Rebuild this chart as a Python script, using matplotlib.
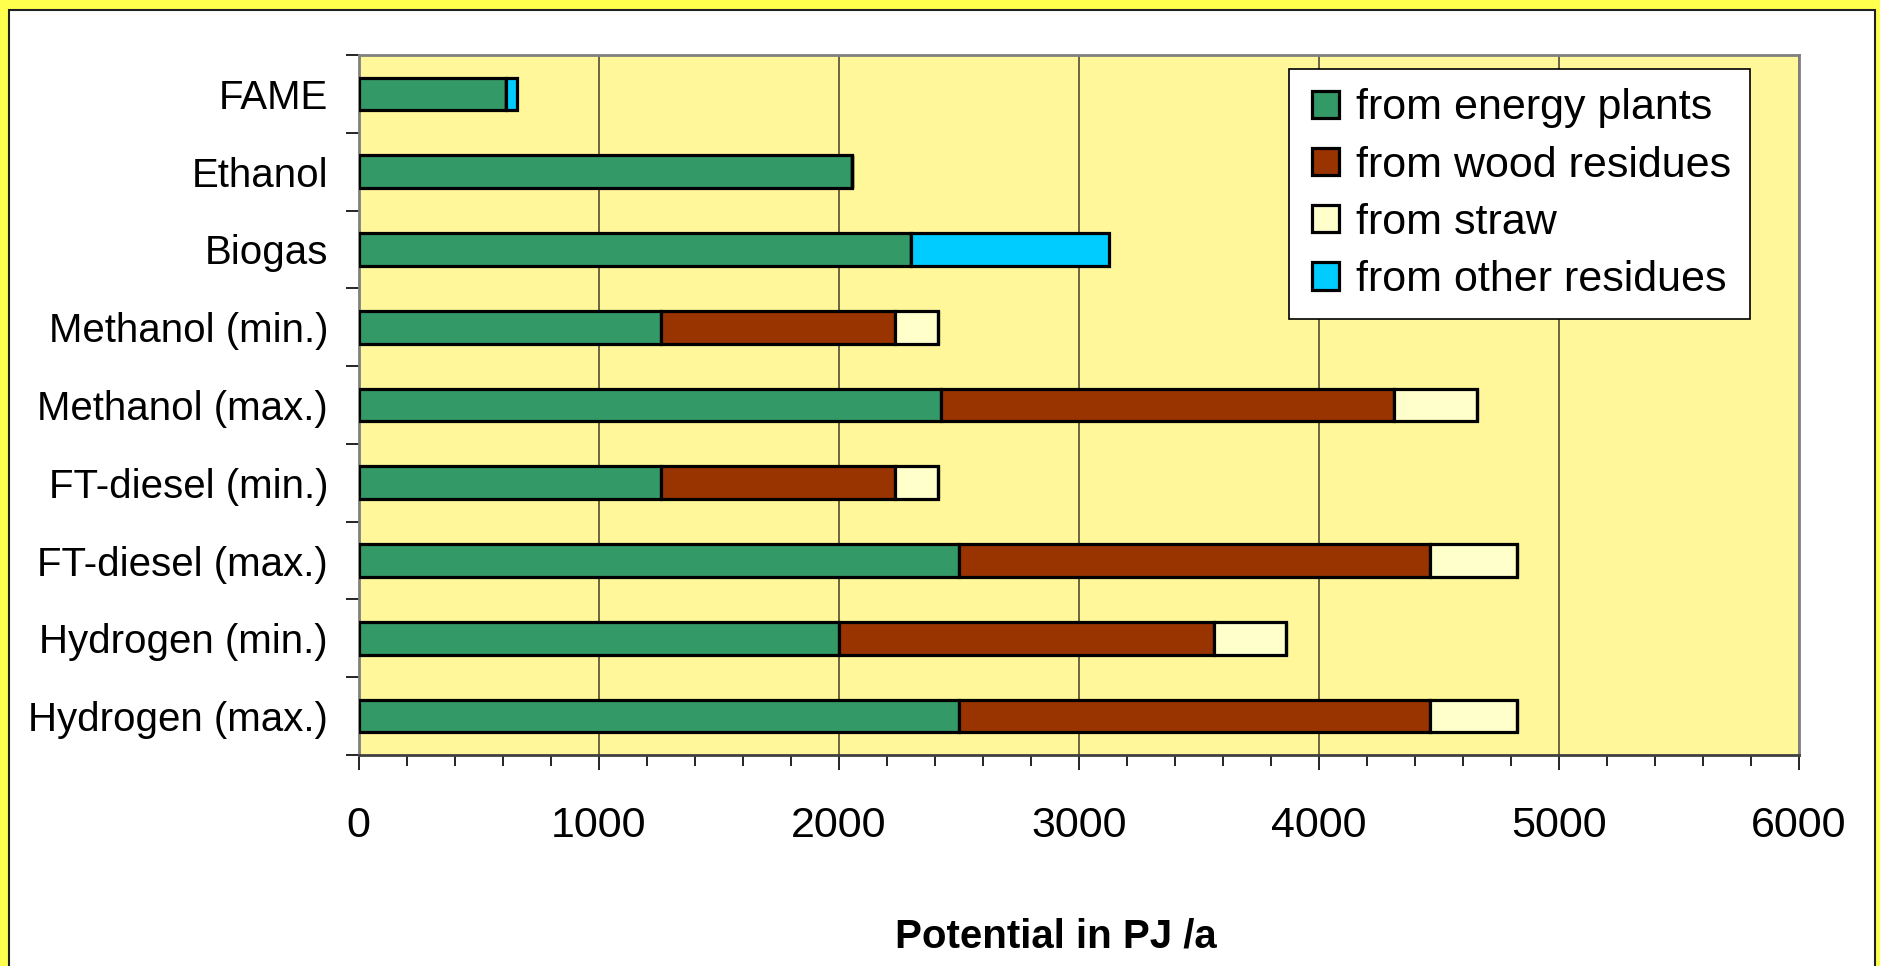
import numpy as np
import matplotlib.pyplot as plt
from matplotlib.patches import Rectangle
from matplotlib.container import BarContainer
from matplotlib.legend_handler import HandlerPatch, update_from_first_child
from matplotlib.ticker import MultipleLocator

plt.rcParams['font.family'] = ['Liberation Sans', 'DejaVu Sans']

# fuel paths, top to bottom
categories = ['FAME', 'Ethanol', 'Biogas', 'Methanol (min.)', 'Methanol (max.)',
              'FT-diesel (min.)', 'FT-diesel (max.)', 'Hydrogen (min.)', 'Hydrogen (max.)']

# potential in PJ/a by feedstock
energy_plants = [615, 2055, 2300, 1260, 2425, 1260, 2500, 2000, 2500]
wood_residues = [0, 0, 0, 975, 1890, 975, 1965, 1565, 1965]
straw = [0, 0, 0, 180, 345, 180, 360, 300, 360]
other_residues = [43, 0, 825, 0, 0, 0, 0, 0, 0]

SERIES = [
    ('from energy plants', energy_plants, '#339966'),
    ('from wood residues', wood_residues, '#993300'),
    ('from straw', straw, '#FFFFCC'),
    ('from other residues', other_residues, '#00CCFF'),
]


def square_key(legend, orig_handle, xdescent, ydescent, width, height, fontsize):
    # square legend key pushed to the right end of the handle box
    return Rectangle((-xdescent + width - height, -ydescent), height, height)


fig = plt.figure(figsize=(18.81, 9.66), dpi=100, facecolor='#FFFF4D')

# white chart panel inside the yellow frame (kept behind the axes)
fig.patches.append(Rectangle((9 / 1881, -0.02), 1866 / 1881, 1 - 10 / 966 + 0.02,
                             transform=fig.transFigure, facecolor='white',
                             edgecolor='#202020', linewidth=1.5, zorder=-1))

ax = fig.add_axes([358.6 / 1881, 1 - 755 / 966, (1799 - 358.6) / 1881, 700 / 966])
ax.set_facecolor('#FFF799')

y = np.arange(len(categories))
left = np.zeros(len(categories))
for label, values, color in SERIES:
    values = np.array(values, dtype=float)
    ax.barh(y, values, left=left, height=0.42, color=color, edgecolor='black',
            linewidth=2.3, label=label, zorder=3)
    left += values

ax.set_xlim(0, 6000)
ax.set_ylim(len(categories) - 0.5, -0.5)

ax.xaxis.set_major_locator(MultipleLocator(1000))
ax.xaxis.set_minor_locator(MultipleLocator(200))
ax.tick_params(axis='x', which='major', length=11, width=1.2, pad=26, labelsize=31)
ax.tick_params(axis='x', which='minor', length=8, width=1.2)
ax.grid(axis='x', which='major', color='#5E5A3C', linewidth=1.3, zorder=1)

# category labels at bar centres, tick marks between categories
ax.set_yticks(y)
ax.set_yticklabels(categories)
ax.set_yticks(np.arange(len(categories) + 1) - 0.5, minor=True)
ax.tick_params(axis='y', which='major', length=0, pad=22, labelsize=29)
ax.tick_params(axis='y', which='minor', length=9.5, width=1.2)

for side in ['top', 'right', 'left']:
    ax.spines[side].set_color('#808080')
    ax.spines[side].set_linewidth(2)
ax.spines['bottom'].set_color('#404040')
ax.spines['bottom'].set_linewidth(2)

ax.set_xlabel('Potential in PJ /a', fontsize=29, fontweight='bold')
ax.xaxis.set_label_coords(0.484, -0.232)

key_handler = HandlerPatch(patch_func=square_key, update_func=update_from_first_child)
leg = ax.legend(loc='upper right', bbox_to_anchor=(0.966, 0.98),
                borderaxespad=0, fontsize=31, fancybox=False, framealpha=1,
                edgecolor='black', handlelength=0.72, handleheight=0.6,
                handletextpad=0.38, labelspacing=0.4, borderpad=0.45,
                handler_map={BarContainer: key_handler})
leg.get_frame().set_linewidth(1.2)
leg.set_zorder(5)

fig.savefig('out.png', dpi=100, facecolor=fig.get_facecolor())
